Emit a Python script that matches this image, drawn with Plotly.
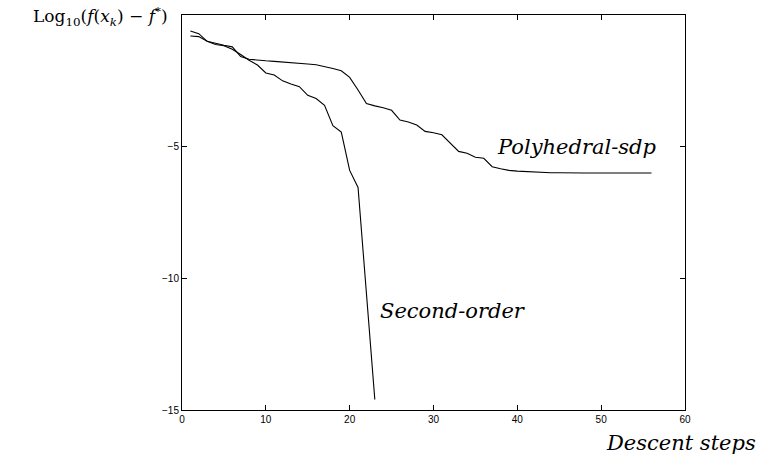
import plotly.graph_objects as go

steps_poly = list(range(1, 57))
poly_sdp = [-0.80, -0.82, -1.00, -1.08, -1.15, -1.21, -1.58, -1.68, -1.72, -1.74,
            -1.76, -1.78, -1.80, -1.83, -1.86, -1.89, -1.95, -2.03, -2.12, -2.37,
            -2.85, -3.36, -3.45, -3.52, -3.62, -3.99, -4.06, -4.18, -4.42, -4.47,
            -4.55, -4.85, -5.18, -5.25, -5.40, -5.44, -5.76, -5.84, -5.90, -5.93,
            -5.95, -5.96, -5.99, -5.99, -5.99, -6.00, -6.00, -6.00, -6.00, -6.00,
            -6.00, -6.00, -6.00, -6.00, -6.00, -6.00]

steps_second = list(range(1, 24))
second_order = [-0.61, -0.71, -1.00, -1.12, -1.17, -1.30, -1.50, -1.72, -1.90, -2.20,
                -2.28, -2.50, -2.62, -2.72, -3.05, -3.17, -3.43, -4.20, -4.45, -5.90,
                -6.55, -10.60, -14.60]

x_ticks = [0, 10, 20, 30, 40, 50, 60]
y_ticks = [-15, -10, -5]

fig = go.Figure()
fig.add_trace(go.Scatter(x=steps_poly, y=poly_sdp, mode="lines",
                         line=dict(color="black", width=1.1), showlegend=False))
fig.add_trace(go.Scatter(x=steps_second, y=second_order, mode="lines",
                         line=dict(color="black", width=1.1), showlegend=False))

label_font = dict(family="DejaVu Serif", size=21, color="black")
fig.add_annotation(x=47.1, y=-5.0, text="<i>Polyhedral-sdp</i>", showarrow=False,
                   font=label_font, xanchor="center", yanchor="middle")
fig.add_annotation(x=32.3, y=-11.25, text="<i>Second-order</i>", showarrow=False,
                   font=label_font, xanchor="center", yanchor="middle")
fig.add_annotation(xref="paper", yref="paper", x=1.145, y=-0.083,
                   text="<i>Descent steps</i>", showarrow=False, font=label_font,
                   xanchor="right", yanchor="middle")
fig.add_annotation(xref="paper", yref="paper", x=-0.024, y=0.995,
                   text="Log<sub>10</sub>(<i>f</i>(<i>x<sub>k</sub></i>) − <i>f</i><sup>*</sup>)",
                   showarrow=False,
                   font=dict(family="DejaVu Serif", size=17, color="black"),
                   xanchor="right", yanchor="middle")

axis_common = dict(showgrid=False, zeroline=False, showline=True, linecolor="black",
                   linewidth=1, mirror="ticks", ticks="inside", ticklen=5,
                   tickcolor="black", tickwidth=1,
                   tickfont=dict(family="Liberation Sans", size=10, color="black"))
fig.update_xaxes(range=[0, 60], tickvals=x_ticks, **axis_common)
fig.update_yaxes(range=[-15, 0], tickvals=y_ticks, **axis_common)

fig.update_layout(width=759, height=464, margin=dict(l=182, r=74, t=15, b=54),
                  plot_bgcolor="white", paper_bgcolor="white")
fig.write_html("out.html")
